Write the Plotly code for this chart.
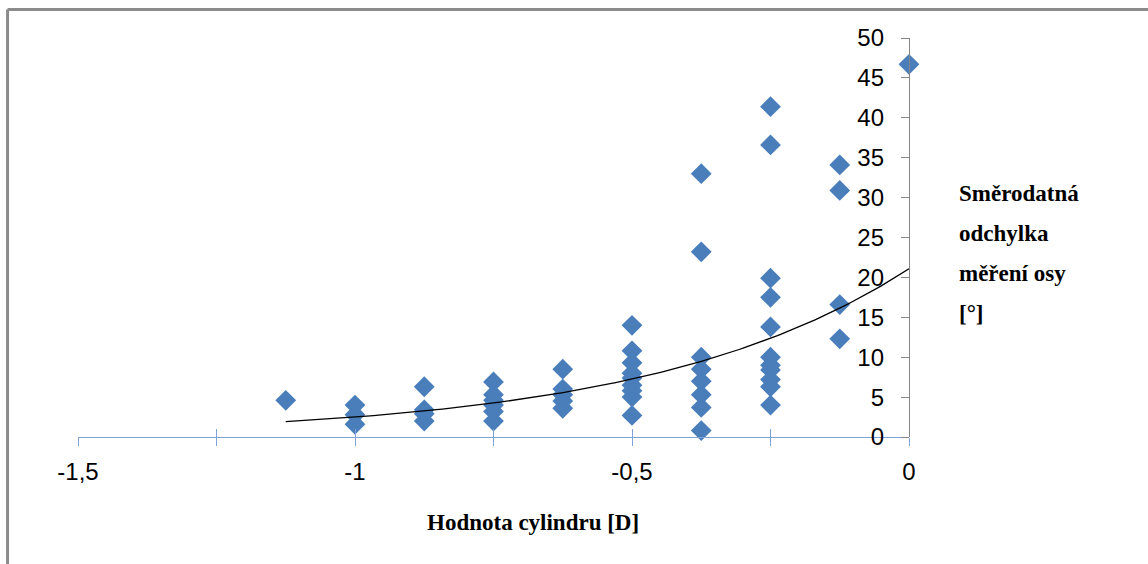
import numpy as np
import plotly.graph_objects as go

# Cylinder value [D] and standard deviation of axis measurement [deg]
cyl_values = [-1.125, -1.0, -0.875, -0.75, -0.625, -0.5, -0.375, -0.25, -0.125, 0.0]
sd_values = [
    [4.6],
    [4.0, 2.8, 1.6],
    [6.3, 3.4, 2.9, 2.0],
    [6.9, 5.3, 4.6, 4.0, 3.2, 2.0],
    [8.5, 6.0, 5.3, 4.5, 3.6],
    [14.0, 10.8, 9.3, 8.0, 7.4, 6.5, 5.8, 5.0, 2.7],
    [33.0, 23.2, 10.0, 8.5, 7.0, 5.3, 3.7, 0.8],
    [41.4, 36.6, 19.9, 17.5, 13.8, 10.0, 9.0, 8.4, 7.2, 6.3, 4.0],
    [34.1, 30.9, 16.6, 12.3],
    [46.7],
]
x_ticks = [-1.5, -1.0, -0.5, 0.0]
x_ticklabels = ["-1,5", "-1", "-0,5", "0"]
y_title_lines = ["Směrodatná", "odchylka", "měření osy", "[°]"]
x_title = "Hodnota cylindru [D]"

xs = []
ys = []
for c, vals in zip(cyl_values, sd_values):
    for v in vals:
        xs.append(c)
        ys.append(v)
xs = np.array(xs)
ys = np.array(ys)

# Exponential trendline (least squares on ln y, as Excel does)
b, ln_a = np.polyfit(xs, np.log(ys), 1)
xt = np.linspace(min(cyl_values), max(cyl_values), 200)
yt = np.exp(ln_a) * np.exp(b * xt)

fig = go.Figure()
fig.add_trace(go.Scatter(
    x=xt, y=yt, mode="lines", xaxis="x2", yaxis="y",
    line=dict(color="#000000", width=1.3), hoverinfo="skip", showlegend=False,
))
fig.add_trace(go.Scatter(
    x=xs, y=ys, mode="markers", cliponaxis=False,
    marker=dict(symbol="diamond", size=16, color="#4A7EBB",
                line=dict(color="#4A7EBB", width=0)),
    showlegend=False,
))

axis_blue = "#7FA3D6"
fig.update_layout(
    width=1148, height=564,
    margin=dict(l=78, r=239, t=38, b=127),
    paper_bgcolor="white", plot_bgcolor="white",
    separators=", ",
    font=dict(family="Liberation Sans, Arial, sans-serif", size=24, color="#000000"),
    xaxis=dict(
        range=[-1.5, 0], showgrid=False, zeroline=False,
        showline=True, linecolor=axis_blue, linewidth=1.3,
        tickmode="array", tickvals=x_ticks, ticktext=x_ticklabels,
        ticks="outside", ticklen=8, tickcolor=axis_blue, tickwidth=1.3,
        minor=dict(dtick=0.25, tick0=-1.5, ticks="outside", ticklen=8,
                   tickcolor=axis_blue, tickwidth=1.3, showgrid=False),
        ticklabelstandoff=5,
        tickfont=dict(size=24),
    ),
    xaxis2=dict(
        range=[-1.5, 0], overlaying="x", anchor="y", side="bottom",
        showgrid=False, zeroline=False, showline=False, showticklabels=False,
        tickmode="linear", tick0=-1.5, dtick=0.25,
        ticks="inside", ticklen=8, tickcolor=axis_blue, tickwidth=1.3,
    ),
    yaxis=dict(
        range=[0, 50], side="left", anchor="free", position=1.0,
        showgrid=False, zeroline=False,
        showline=True, linecolor="#868686", linewidth=1.3,
        tickmode="linear", tick0=0, dtick=5,
        ticks="outside", ticklen=8, tickcolor="#868686", tickwidth=1.3,
        ticklabelstandoff=12,
        tickfont=dict(size=24),
    ),
    shapes=[
        dict(type="line", xref="paper", yref="paper",
             x0=-0.0848, x1=1.29, y0=1.0714, y1=1.0714,
             line=dict(color="#8C8C8C", width=3)),
        dict(type="line", xref="paper", yref="paper",
             x0=-0.0848, x1=-0.0848, y0=-0.32, y1=1.0714,
             line=dict(color="#8C8C8C", width=3)),
    ],
)

serif = "Liberation Serif, Times New Roman, serif"
fig.add_annotation(
    text=f"<b>{x_title}</b>", xref="paper", yref="paper",
    x=(533 - 78) / 831, y=(437 - 522) / 399, xanchor="center", yanchor="middle",
    showarrow=False, font=dict(family=serif, size=23, color="#000000"),
)
for i, line in enumerate(y_title_lines):
    py = 193 + 40 * i
    fig.add_annotation(
        text=f"<b>{line}</b>", xref="paper", yref="paper",
        x=(957 - 78) / 831, y=(437 - py) / 399, xanchor="left", yanchor="middle",
        showarrow=False, font=dict(family=serif, size=23, color="#000000"),
    )

fig.write_html("out.html")
